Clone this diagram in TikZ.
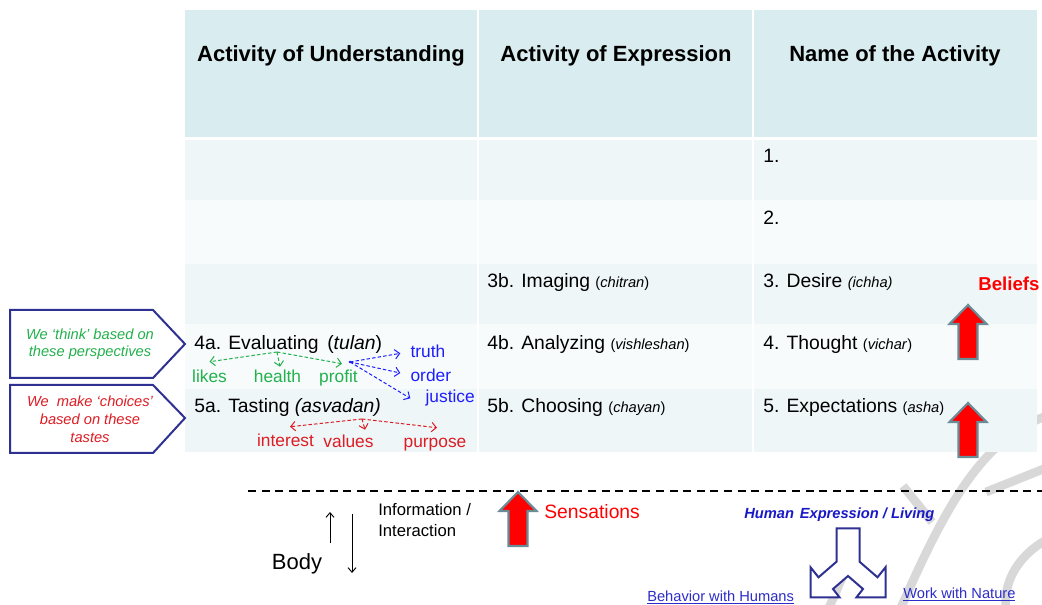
\documentclass[tikz,border=0pt]{standalone}
\usepackage{fontspec}
\setmainfont{Liberation Sans}
\usetikzlibrary{arrows.meta,calc}
\definecolor{hdrfill}{RGB}{217,236,239}
\definecolor{rowa}{RGB}{238,246,248}
\definecolor{rowb}{RGB}{247,251,252}
\definecolor{navy}{RGB}{46,49,146}
\definecolor{tgreen}{RGB}{34,177,76}
\definecolor{tred}{RGB}{222,28,36}
\definecolor{tblue}{RGB}{30,30,250}
\definecolor{linkblue}{RGB}{45,45,200}
\definecolor{hexblue}{RGB}{25,25,200}
\definecolor{arrowedge}{RGB}{105,140,150}
\definecolor{wmark}{RGB}{216,216,216}
% smaller size for the transliterated names
\newcommand\translit{\fontsize{11}{12}\selectfont}

\begin{document}
\begin{tikzpicture}[x=0.75pt,y=-0.75pt,
  hdr/.style={anchor=base, inner sep=0pt, font=\fontsize{16.5}{19}\selectfont\bfseries},
  cell/.style={anchor=base west, inner sep=0pt, font=\fontsize{14.5}{17}\selectfont},
  lbl/.style={inner sep=1pt, text height=9.5pt, text depth=2.5pt, font=\fontsize{13}{15}\selectfont},
  callout/.style={draw=navy, line width=1.5pt, fill=white, line join=miter},
  calltext/.style={align=center, inner sep=0pt, font=\fontsize{11}{13}\selectfont\itshape},
  perspective/.style={draw=#1, line width=0.75pt, dash pattern=on 2.6pt off 1.6pt,
    -{Straight Barb[length=3.5pt,width=7pt]}},
  bodyarrow/.style={line width=0.7pt, -{Straight Barb[length=3.5pt,width=6pt]}},
  wm/.style={draw=wmark, line width=6.5pt},
  redup/.pic={\draw[fill=red, draw=arrowedge, line width=1.6pt, line join=miter]
    (0,0) -- (18.5,19) -- (9.5,19) -- (9.5,54) -- (-9.5,54) -- (-9.5,19) -- (-18.5,19) -- cycle;}
]
\useasboundingbox (0,0) rectangle (1042,605);
\fill[white] (0,0) rectangle (1042,605);

% faint lettering in the background
\draw[wm] (1046,416) .. controls (985,440) and (950,495) .. (900,610);
\draw[wm] (1046,540) .. controls (1015,558) and (1003,585) .. (1006,610);
\draw[wm] (986,492) -- (1046,468);
\draw[wm] (903,486) -- (932,522);
\draw[wm] (842,578) -- (828,610);

% table
\fill[hdrfill] (185,10) rectangle (1037,137);
\fill[rowa] (185,140) rectangle (1037,200);
\fill[rowb] (185,200) rectangle (1037,264);
\fill[rowa] (185,264) rectangle (1037,324);
\fill[rowb] (185,324) rectangle (1037,389);
\fill[rowa] (185,389) rectangle (1037,452);
\draw[white, line width=1.5pt] (478,10) -- (478,452) (753,10) -- (753,452);

\node[hdr] (h1) at (331,62) {Activity of Understanding};
\node[hdr] (h2) at (616,62) {Activity of Expression};
\node[hdr] (h3) at (895,62) {Name of the Activity};

\node[cell] (n1) at (763,163) {1.};
\node[cell] (n2) at (763,225) {2.};
\node[cell] (n3) at (763,288) {3. Desire {\translit\itshape (ichha)}};
\node[cell] (n4) at (763,350) {4. Thought {\translit (\textit{vichar})}};
\node[cell] (n5) at (763,413) {5. Expectations {\translit (\textit{asha})}};

\node[cell] (e3) at (487,288) {3b. Imaging {\translit (\textit{chitran})}};
\node[cell] (e4) at (487,350) {4b. Analyzing {\translit (\textit{vishleshan})}};
\node[cell] (e5) at (487,413) {5b. Choosing {\translit (\textit{chayan})}};

\node[cell] (u4) at (194,350) {4a. Evaluating\hspace{0.45em}(\textit{tulan})};
\node[cell] (u5) at (194,413) {5a. Tasting \textit{(asvadan)}};

% perspectives of evaluating
\node[lbl, anchor=base, text=tgreen] (likes) at (209.5,383) {likes};
\node[lbl, anchor=base, text=tgreen] (health) at (277.5,383) {health};
\node[lbl, anchor=base, text=tgreen] (profit) at (338.5,383) {profit};
\node[lbl, anchor=base west, text=tblue] (truth) at (409,358) {truth};
\node[lbl, anchor=base west, text=tblue] (order) at (409,382) {order};
\node[lbl, anchor=base west, text=tblue] (justice) at (424,403) {justice};
\coordinate (gsrc) at (277,352);
\coordinate (bsrc) at (350,362);
\draw[perspective=tgreen] (gsrc) -- ($(likes.north)+(0,-7)$);
\draw[perspective=tgreen] (gsrc) -- ($(health.north)+(2.5,-2)$);
\draw[perspective=tgreen] (gsrc) -- ($(profit.north)+(3.5,-5)$);
\draw[perspective=tblue] (bsrc) -- ($(truth.west)+(-8.7,0)$);
\draw[perspective=tblue] (bsrc) -- ($(order.west)+(-8.7,-4.3)$);
\draw[perspective=tblue] (bsrc) -- ($(justice.west)+(-13.7,0)$);
\fill[tblue] (bsrc) circle (1.4);

% tastes
\node[lbl, anchor=base, text=tred] (interest) at (285.5,447) {interest};
\node[lbl, anchor=base, text=tred] (values) at (348.5,448) {values};
\node[lbl, anchor=base, text=tred] (purpose) at (435,448) {purpose};
\coordinate (rsrc) at (362,419);
\draw[perspective=tred] (rsrc) -- ($(interest.north)+(4.5,-6)$);
\draw[perspective=tred] (rsrc) -- ($(values.north)+(16.5,-4)$);
\draw[perspective=tred] (rsrc) -- ($(purpose.north)+(2,-6)$);

% callouts on the left
\draw[callout] (10,310) -- (153,310) -- (185,344) -- (153,378) -- (10,378) -- cycle;
\node[calltext, text=tgreen, font=\fontsize{11}{12.75}\selectfont\itshape] (think) at (90,344)
  {We ‘think’ based on\\these perspectives};
\draw[callout] (10,385) -- (153,385) -- (185,418) -- (153,453) -- (10,453) -- cycle;
\node[calltext, text=tred, font=\fontsize{11}{13.5}\selectfont\itshape] (choice) at (90,419)
  {We\hspace{0.55em}make ‘choices’\\based on these\\tastes};

% red block arrows
\pic at (968,305) {redup};
\pic at (968,403) {redup};
\node[anchor=base west, inner sep=0pt, text=red, font=\fontsize{14}{16}\selectfont\bfseries] (beliefs) at (978,291) {Beliefs};

% boundary between self and body
\draw[line width=1.1pt, dash pattern=on 6pt off 4.2pt] (248,491) -- (1042,491);

\node[anchor=base, inner sep=0pt, font=\fontsize{16.5}{19}\selectfont] (body) at (297,569) {Body};
\coordinate (upfoot) at (330,543);
\coordinate (uphead) at (330,512);
\coordinate (dnfoot) at (352,514);
\coordinate (dnhead) at (352,573);
\draw[bodyarrow] (upfoot) -- (uphead);
\draw[bodyarrow] (dnfoot) -- (dnhead);
\node[anchor=base west, inner sep=0pt, font=\fontsize{12.5}{15}\selectfont] (info) at (378,515) {Information /};
\node[anchor=base west, inner sep=0pt, font=\fontsize{12.5}{15}\selectfont] (inter) at (378,536) {Interaction};

\pic at (518,492) {redup};
\node[anchor=base west, inner sep=0pt, text=red, font=\fontsize{14.5}{17}\selectfont] (sens) at (544,518) {Sensations};

% human expression splitting in two
\node[anchor=base west, inner sep=0pt, text=hexblue, font=\fontsize{11}{13}\selectfont\bfseries\itshape] (hexp) at (744,518) {Human\hspace{0.4em}Expression / Living};
\draw[navy, line width=1.5pt, fill=white, line join=miter]
  (836.5,528.3) -- (859.5,528.3) -- (859.5,561.7) -- (877.5,577.3) -- (885.5,567.3)
  -- (885.5,597.3) -- (856.5,597.3) -- (863,589) -- (848,576) -- (833,589)
  -- (839.5,597.3) -- (810.5,597.3) -- (810.5,567.3) -- (818.5,577.3) -- (836.5,561.7) -- cycle;
\node[anchor=base west, inner sep=0pt, text=linkblue, font=\fontsize{11}{13}\selectfont] (humans) at (647,601) {\underline{Behavior with Humans}};
\node[anchor=base west, inner sep=0pt, text=linkblue, font=\fontsize{11}{13}\selectfont] (nature) at (903,598) {\underline{Work with Nature}};
\end{tikzpicture}
\end{document}
